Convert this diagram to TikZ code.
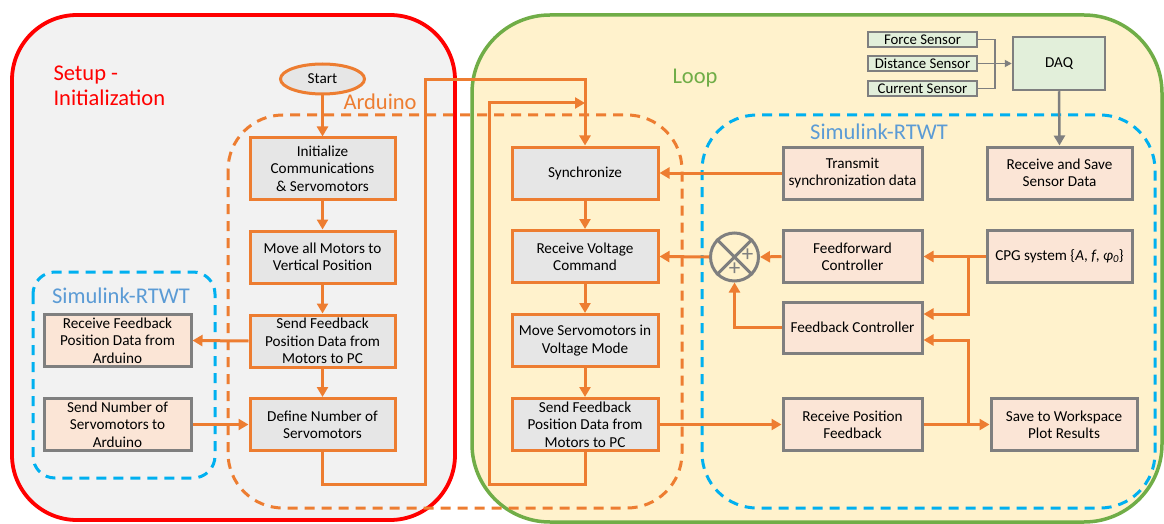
\documentclass[tikz,border=0pt]{standalone}
\usepackage{fontspec}
\setmainfont{Carlito}
\usepackage{xcolor}
\usepackage{tikz}
\usetikzlibrary{arrows.meta, positioning, shapes.geometric, calc}

\definecolor{setupred}{HTML}{FF0000}
\definecolor{setupgrey}{HTML}{F2F2F2}
\definecolor{loopgreen}{HTML}{70AD47}
\definecolor{loopfill}{HTML}{FFF2CC}
\definecolor{ardorange}{HTML}{ED7D31}
\definecolor{ardgrey}{HTML}{E6E6E6}
\definecolor{simblue}{HTML}{00B0F0}
\definecolor{simtext}{HTML}{5B9BD5}
\definecolor{simfill}{HTML}{FBE5D6}
\definecolor{boxborder}{HTML}{7F7F7F}
\definecolor{sensorfill}{HTML}{E2EFDA}

\begin{document}
\begin{tikzpicture}[x=1pt, y=-1pt,
    every node/.style={font=\fontsize{15.2}{17.4}\selectfont},
    ardbox/.style={draw=ardorange, fill=ardgrey, line width=3pt, minimum width=145pt,
      minimum height=52pt, inner sep=0pt, align=center},
    simbox/.style={draw=boxborder, fill=simfill, line width=3pt, minimum width=139pt,
      minimum height=52pt, inner sep=0pt, align=center},
    sensorbox/.style={draw=boxborder, fill=sensorfill, line width=2.5pt, minimum width=109pt,
      minimum height=15pt, inner sep=0pt, font=\fontsize{14.8}{15}\selectfont},
    startnode/.style={ellipse, draw=ardorange, fill=ardgrey, line width=3pt,
      minimum width=84pt, minimum height=30pt, inner sep=0pt},
    flow/.style={draw=ardorange, line width=3pt, -{Triangle[length=10pt, width=11pt]}},
    greyflow/.style={draw=boxborder, line width=2.5pt, -{Triangle[length=10pt, width=11pt]}},
    sensorline/.style={draw=boxborder, line width=1.8pt},
    ardframe/.style={draw=ardorange, line width=3pt, dash pattern=on 10pt off 7pt, rounded corners=55pt},
    simframe/.style={draw=simblue, line width=3pt, dash pattern=on 10pt off 7pt},
    title/.style={font=\fontsize{22.5}{25}\selectfont}
  ]
  \useasboundingbox (0,0) rectangle (1164,524);

  % setup and loop regions
  \draw[draw=setupred, fill=setupgrey, line width=3.8pt, rounded corners=65pt] (12,15) rectangle (455,520);
  \draw[draw=loopgreen, fill=loopfill, line width=3.5pt, rounded corners=78pt] (472,15) rectangle (1162,522);

  \draw[ardframe] (228,115) rectangle (682,508);
  \draw[simframe, rounded corners=22pt] (33,272) rectangle (215,478);
  \draw[simframe, rounded corners=55pt] (702,115) rectangle (1155,508);

  \node[title, text=setupred, anchor=west, align=left] (setuptitle) at (50,86) {Setup -\\Initialization};
  \node[title, text=loopgreen] (looptitle) at (695,78) {Loop};
  \node[title, text=ardorange, anchor=west] (ardtitle) at (340,102) {Arduino};
  \node[title, text=simtext] (simtitleA) at (121,296) {Simulink-RTWT};
  \node[title, text=simtext] (simtitleB) at (879,132) {Simulink-RTWT};

  % arduino setup
  \node[startnode] (start) at (322.5,79) {Start};
  \node[ardbox, minimum height=61pt] (init) at (322.5,168.5) {Initialize\\Communications\\\& Servomotors};
  \node[ardbox] (movevert) at (322.5,257) {Move all Motors to\\Vertical Position};
  \node[ardbox] (sendfbA) at (322.5,341) {Send Feedback\\Position Data from\\Motors to PC};
  \node[ardbox] (defnum) at (322.5,424.5) {Define Number of\\Servomotors};

  \node[simbox, minimum width=147pt] (recvfb) at (117.5,340.5) {Receive Feedback\\Position Data from\\Arduino};
  \node[simbox, minimum width=147pt] (sendnum) at (117.5,424.5) {Send Number of\\Servomotors to\\Arduino};

  % arduino loop
  \node[ardbox, minimum width=146pt] (sync) at (585,173) {Synchronize};
  \node[ardbox, minimum width=146pt] (recvvolt) at (585,256.5) {Receive Voltage\\Command};
  \node[ardbox, minimum width=146pt] (movevolt) at (585,340.5) {Move Servomotors in\\Voltage Mode};
  \node[ardbox, minimum width=146pt] (sendfbB) at (585,424.5) {Send Feedback\\Position Data from\\Motors to PC};

  % simulink loop
  \node[simbox] (transmit) at (852.5,173) {Transmit\\synchronization data};
  \node[simbox, minimum width=145pt] (recvsave) at (1059.5,173) {Receive and Save\\Sensor Data};
  \node[simbox] (ffctrl) at (852.5,256.5) {Feedforward\\Controller};
  \node[simbox, minimum width=145pt] (cpg) at (1059.5,256.5)
    {CPG system \{\textit{A}, \textit{f}, \textit{φ\textsubscript{0}}\}};
  \node[simbox, minimum height=51pt] (fbctrl) at (852.5,327.5) {Feedback Controller};
  \node[simbox] (recvpos) at (852.5,424.5) {Receive Position\\Feedback};
  \node[simbox, minimum width=146pt] (saveplot) at (1064,424.5) {Save to Workspace\\Plot Results};

  \node[sensorbox] (force) at (922.5,39.5) {Force Sensor};
  \node[sensorbox] (distance) at (922.5,63.5) {Distance Sensor};
  \node[sensorbox] (current) at (922.5,88.5) {Current Sensor};
  \node[sensorbox, minimum width=92pt, minimum height=53pt, font=\fontsize{15.2}{17}\selectfont] (daq) at (1059,63.5) {DAQ};

  \node[circle, draw=boxborder, line width=3pt, minimum size=48pt, inner sep=0pt] (sum) at (734.5,257) {};
  \draw[boxborder, line width=3pt] (sum.north west) -- (sum.south east) (sum.north east) -- (sum.south west);
  \node[text=boxborder, font=\fontsize{23}{23}\selectfont, inner sep=0pt] (plusR) at (747.5,255) {+};
  \node[text=boxborder, font=\fontsize{23}{23}\selectfont, inner sep=0pt] (plusB) at (734.5,269) {+};

  \coordinate (syncjoin) at (585,103);
  \coordinate (sensjoin) at (995,63.5);
  \coordinate (cpgsplit) at (968,256.5);
  \coordinate (possplit) at (968,424.5);

  \draw[flow] (start.south) -- (init.north);
  \draw[flow] (init) -- (movevert);
  \draw[flow] (movevert) -- (sendfbA);
  \draw[flow] (sendfbA) -- (defnum);
  \draw[flow] (sendfbA.west) -- (recvfb.east);
  \draw[flow] (sendnum.east) -- (defnum.west);
  \draw[flow] (defnum.south) -- ++(0,32) -| (425,80) -| (sync.north);

  \draw[flow] (sync) -- (recvvolt);
  \draw[flow] (recvvolt) -- (movevolt);
  \draw[flow] (movevolt) -- (sendfbB);
  \draw[flow] (sendfbB.south) -- ++(0,32) -| (489,103) -- (syncjoin);

  \draw[flow] (transmit.west) -- (sync.east);
  \draw[flow] (sum.west) -- (recvvolt.east);
  \draw[flow] (ffctrl.west) -- (sum.east);
  \draw[flow] (cpg.west) -- (ffctrl.east);
  \draw[flow] (cpgsplit) |- ([yshift=13.5pt]fbctrl.east);
  \draw[flow] (fbctrl.west) -| (sum.south);
  \draw[flow] (sendfbB.east) -- (recvpos.west);
  \draw[flow] (recvpos.east) -- (saveplot.west);
  \draw[flow] (possplit) |- ([yshift=-12.5pt]fbctrl.east);

  \draw[sensorline] (force.east) -| (sensjoin);
  \draw[sensorline] (current.east) -| (sensjoin);
  \draw[sensorline, -{Triangle[length=7pt, width=7pt]}] (distance.east) -- (daq.west);
  \draw[greyflow] (daq.south) -- (recvsave.north);
\end{tikzpicture}
\end{document}
